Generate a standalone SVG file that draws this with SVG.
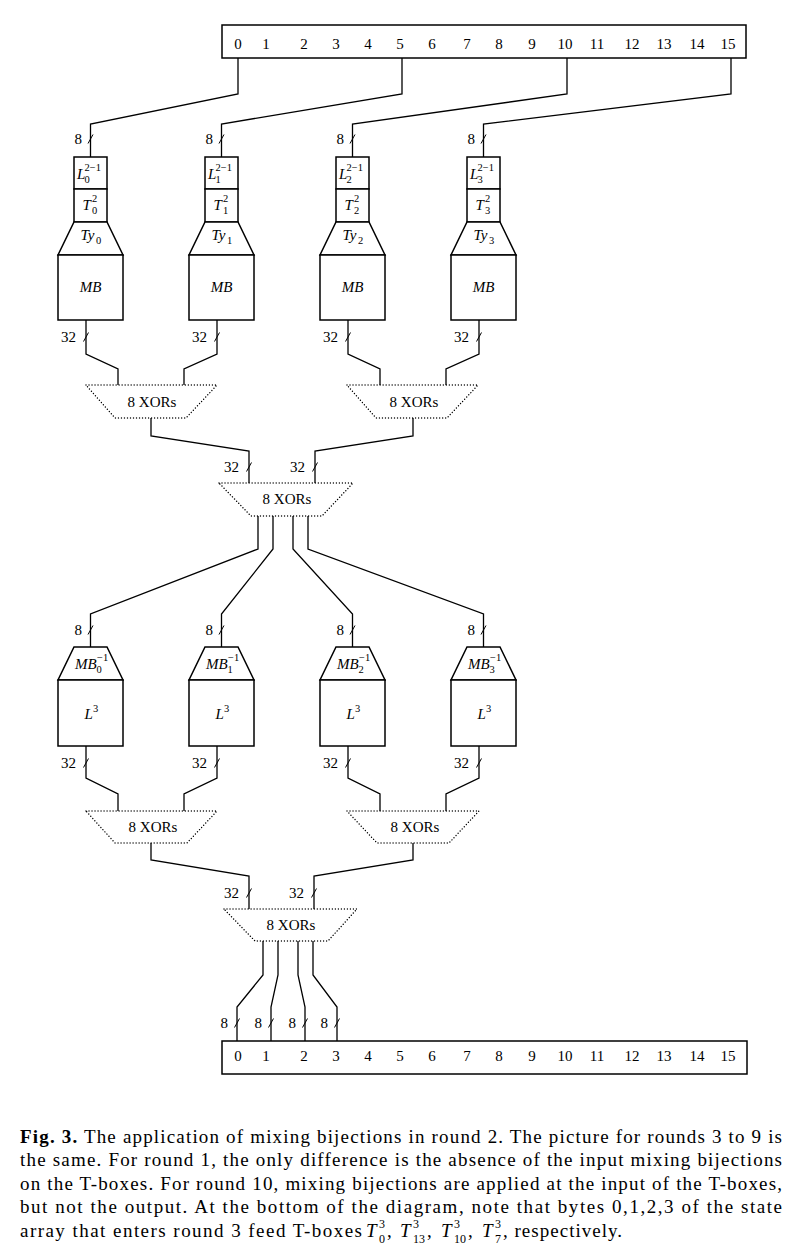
<svg xmlns="http://www.w3.org/2000/svg" width="802" height="1256" viewBox="0 0 802 1256">
<style>
.box{fill:#fff;stroke:#000;stroke-width:1.5}
.xor{fill:none;stroke:#000;stroke-width:1.4;stroke-dasharray:0.01 3;stroke-linecap:round}
.wire{fill:none;stroke:#000;stroke-width:1.3}
.tick{fill:none;stroke:#000;stroke-width:1}
text{font-family:"Liberation Serif","DejaVu Serif",serif;font-size:15px;fill:#000}
.m{font-style:italic}
.s{font-size:10.5px}
.c{text-anchor:middle}
.e{text-anchor:end}
.cap{font-size:19px}
.cs{font-size:12px}
</style>

<g id="state-top">
<rect class="box" x="222" y="25" width="524" height="33"/>
<g class="c">
<text x="238" y="49">0</text><text x="266" y="49">1</text><text x="304" y="49">2</text><text x="336" y="49">3</text>
<text x="368" y="49">4</text><text x="400" y="49">5</text><text x="432" y="49">6</text><text x="467" y="49">7</text>
<text x="499" y="49">8</text><text x="532" y="49">9</text><text x="565" y="49">10</text><text x="597" y="49">11</text>
<text x="632" y="49">12</text><text x="664" y="49">13</text><text x="697" y="49">14</text><text x="728" y="49">15</text>
</g>
</g>

<g id="connectors">
<path class="wire" d="M238 58 V94 L90.5 124 V157"/>
<path class="wire" d="M402 58 V94 L221.5 124 V157"/>
<path class="wire" d="M567 58 V94 L352.5 124 V157"/>
<path class="wire" d="M731 58 V94 L483.5 124 V157"/>
<path class="wire" d="M86 320 V354 L118 369 V385"/>
<path class="wire" d="M217 320 V354 L184 369 V385"/>
<path class="wire" d="M348 320 V354 L380 369 V385"/>
<path class="wire" d="M479 320 V354 L446 369 V385"/>
<path class="wire" d="M151 418 V436 L249 451 V483"/>
<path class="wire" d="M413 418 V436 L315 451 V483"/>
<path class="wire" d="M258 516 V549 L90.5 614 V647"/>
<path class="wire" d="M273 516 V549 L221.5 614 V647"/>
<path class="wire" d="M293 516 V549 L352.5 614 V647"/>
<path class="wire" d="M308 516 V549 L483.5 614 V647"/>
<path class="wire" d="M86 746 V778 L118 794 V811"/>
<path class="wire" d="M217 746 V778 L184 794 V811"/>
<path class="wire" d="M348 746 V778 L380 794 V811"/>
<path class="wire" d="M479 746 V778 L446 794 V811"/>
<path class="wire" d="M151 843 V860 L249 876 V909"/>
<path class="wire" d="M413 843 V860 L314 876 V909"/>
<path class="wire" d="M263 941 V975 L237 1007 V1041"/>
<path class="wire" d="M278 941 V975 L271 1007 V1041"/>
<path class="wire" d="M298 941 V975 L305 1007 V1041"/>
<path class="wire" d="M313 941 V975 L337 1007 V1041"/>
<g id="bus-ticks">
<path class="tick" d="M88 143.5 L93 134.5 M219 143.5 L224 134.5 M350 143.5 L355 134.5 M481 143.5 L486 134.5"/>
<path class="tick" d="M83.5 341.5 L88.5 332.5 M214.5 341.5 L219.5 332.5 M345.5 341.5 L350.5 332.5 M476.5 341.5 L481.5 332.5"/>
<path class="tick" d="M246.5 471.5 L251.5 462.5 M312.5 471.5 L317.5 462.5"/>
<path class="tick" d="M88 634.5 L93 625.5 M219 634.5 L224 625.5 M350 634.5 L355 625.5 M481 634.5 L486 625.5"/>
<path class="tick" d="M83.5 767.5 L88.5 758.5 M214.5 767.5 L219.5 758.5 M345.5 767.5 L350.5 758.5 M476.5 767.5 L481.5 758.5"/>
<path class="tick" d="M246.5 897.5 L251.5 888.5 M311.5 897.5 L316.5 888.5"/>
<path class="tick" d="M234.5 1027.5 L239.5 1018.5 M268.5 1027.5 L273.5 1018.5 M302.5 1027.5 L307.5 1018.5 M334.5 1027.5 L339.5 1018.5"/>
</g>
<g id="bus-labels" class="e">
<text x="82" y="144">8</text><text x="213" y="144">8</text><text x="344" y="144">8</text><text x="475" y="144">8</text>
<text x="76" y="342">32</text><text x="207" y="342">32</text><text x="338" y="342">32</text><text x="469" y="342">32</text>
<text x="239" y="472">32</text><text x="305" y="472">32</text>
<text x="82" y="635">8</text><text x="213" y="635">8</text><text x="344" y="635">8</text><text x="475" y="635">8</text>
<text x="76" y="768">32</text><text x="207" y="768">32</text><text x="338" y="768">32</text><text x="469" y="768">32</text>
<text x="239" y="898">32</text><text x="304" y="898">32</text>
<text x="228" y="1028">8</text><text x="262" y="1028">8</text><text x="296" y="1028">8</text><text x="328" y="1028">8</text>
</g>
</g>

<g id="tbox0">
<rect class="box" x="74" y="157" width="33" height="32"/>
<rect class="box" x="74" y="189" width="33" height="33"/>
<polygon class="box" points="74,222 107,222 123,255 58,255"/>
<rect class="box" x="58" y="255" width="65" height="65"/>
<text x="77" y="179" class="m">L</text><text x="84.5" y="171" class="s">2−1</text><text x="84.5" y="183" class="s">0</text>
<text x="82.5" y="210" class="m">T</text><text x="92" y="202" class="s">2</text><text x="92" y="214" class="s">0</text>
<text x="80.5" y="240" class="m">Ty</text><text x="96" y="244" class="s">0</text>
<text x="90.5" y="292" class="m c">MB</text>
</g>
<g id="tbox1">
<rect class="box" x="205" y="157" width="33" height="32"/>
<rect class="box" x="205" y="189" width="33" height="33"/>
<polygon class="box" points="205,222 238,222 254,255 189,255"/>
<rect class="box" x="189" y="255" width="65" height="65"/>
<text x="208" y="179" class="m">L</text><text x="215.5" y="171" class="s">2−1</text><text x="215.5" y="183" class="s">1</text>
<text x="213.5" y="210" class="m">T</text><text x="223" y="202" class="s">2</text><text x="223" y="214" class="s">1</text>
<text x="211.5" y="240" class="m">Ty</text><text x="227" y="244" class="s">1</text>
<text x="221.5" y="292" class="m c">MB</text>
</g>
<g id="tbox2">
<rect class="box" x="336" y="157" width="33" height="32"/>
<rect class="box" x="336" y="189" width="33" height="33"/>
<polygon class="box" points="336,222 369,222 385,255 320,255"/>
<rect class="box" x="320" y="255" width="65" height="65"/>
<text x="339" y="179" class="m">L</text><text x="346.5" y="171" class="s">2−1</text><text x="346.5" y="183" class="s">2</text>
<text x="344.5" y="210" class="m">T</text><text x="354" y="202" class="s">2</text><text x="354" y="214" class="s">2</text>
<text x="342.5" y="240" class="m">Ty</text><text x="358" y="244" class="s">2</text>
<text x="352.5" y="292" class="m c">MB</text>
</g>
<g id="tbox3">
<rect class="box" x="467" y="157" width="33" height="32"/>
<rect class="box" x="467" y="189" width="33" height="33"/>
<polygon class="box" points="467,222 500,222 516,255 451,255"/>
<rect class="box" x="451" y="255" width="65" height="65"/>
<text x="470" y="179" class="m">L</text><text x="477.5" y="171" class="s">2−1</text><text x="477.5" y="183" class="s">3</text>
<text x="475.5" y="210" class="m">T</text><text x="485" y="202" class="s">2</text><text x="485" y="214" class="s">3</text>
<text x="473.5" y="240" class="m">Ty</text><text x="489" y="244" class="s">3</text>
<text x="483.5" y="292" class="m c">MB</text>
</g>

<g id="xor-a"><polygon class="xor" points="86,385 217,385 186,418 115,418"/><text x="152" y="407" class="c">8 XORs</text></g>
<g id="xor-b"><polygon class="xor" points="347,385 478,385 447,418 376,418"/><text x="414" y="407" class="c">8 XORs</text></g>
<g id="xor-c"><polygon class="xor" points="219,483 353,483 322,516 251,516"/><text x="287" y="504" class="c">8 XORs</text></g>

<g id="mbox0">
<polygon class="box" points="74,647 107,647 123,680 58,680"/>
<rect class="box" x="58" y="680" width="65" height="66"/>
<text x="75" y="669" class="m">MB</text><text x="97" y="661" class="s">−1</text><text x="96.5" y="673" class="s">0</text>
<text x="84.5" y="719" class="m">L</text><text x="93" y="712" class="s">3</text>
</g>
<g id="mbox1">
<polygon class="box" points="205,647 238,647 254,680 189,680"/>
<rect class="box" x="189" y="680" width="65" height="66"/>
<text x="206" y="669" class="m">MB</text><text x="228" y="661" class="s">−1</text><text x="227.5" y="673" class="s">1</text>
<text x="215.5" y="719" class="m">L</text><text x="224" y="712" class="s">3</text>
</g>
<g id="mbox2">
<polygon class="box" points="336,647 369,647 385,680 320,680"/>
<rect class="box" x="320" y="680" width="65" height="66"/>
<text x="337" y="669" class="m">MB</text><text x="359" y="661" class="s">−1</text><text x="358.5" y="673" class="s">2</text>
<text x="346.5" y="719" class="m">L</text><text x="355" y="712" class="s">3</text>
</g>
<g id="mbox3">
<polygon class="box" points="467,647 500,647 516,680 451,680"/>
<rect class="box" x="451" y="680" width="65" height="66"/>
<text x="468" y="669" class="m">MB</text><text x="490" y="661" class="s">−1</text><text x="489.5" y="673" class="s">3</text>
<text x="477.5" y="719" class="m">L</text><text x="486" y="712" class="s">3</text>
</g>

<g id="xor-d"><polygon class="xor" points="86,811 217,811 187,843 115,843"/><text x="153" y="832" class="c">8 XORs</text></g>
<g id="xor-e"><polygon class="xor" points="347,811 479,811 449,843 377,843"/><text x="415" y="832" class="c">8 XORs</text></g>
<g id="xor-f"><polygon class="xor" points="224,909 357,909 328,941 255,941"/><text x="291" y="930" class="c">8 XORs</text></g>

<g id="state-bottom">
<rect class="box" x="222" y="1041" width="525" height="33"/>
<g class="c">
<text x="238" y="1061">0</text><text x="266" y="1061">1</text><text x="304" y="1061">2</text><text x="336" y="1061">3</text>
<text x="368" y="1061">4</text><text x="400" y="1061">5</text><text x="432" y="1061">6</text><text x="467" y="1061">7</text>
<text x="499" y="1061">8</text><text x="532" y="1061">9</text><text x="565" y="1061">10</text><text x="597" y="1061">11</text>
<text x="632" y="1061">12</text><text x="664" y="1061">13</text><text x="697" y="1061">14</text><text x="728" y="1061">15</text>
</g>
</g>

<g id="caption">
<text class="cap" x="20" y="1143" textLength="762" lengthAdjust="spacing"><tspan font-weight="bold">Fig. 3.</tspan> The application of mixing bijections in round 2. The picture for rounds 3 to 9 is</text>
<text class="cap" x="20" y="1166" textLength="762" lengthAdjust="spacing">the same. For round 1, the only difference is the absence of the input mixing bijections</text>
<text class="cap" x="20" y="1190" textLength="762" lengthAdjust="spacing">on the T-boxes. For round 10, mixing bijections are applied at the input of the T-boxes,</text>
<text class="cap" x="20" y="1213" textLength="762" lengthAdjust="spacing">but not the output. At the bottom of the diagram, note that bytes 0,1,2,3 of the state</text>
<text class="cap" x="20" y="1237" textLength="342" lengthAdjust="spacing">array that enters round 3 feed T-boxes</text>
<text class="cap m" x="366" y="1237">T</text><text class="cs" x="379" y="1228">3</text><text class="cs" x="379" y="1243">0</text><text class="cap" x="387" y="1237">,</text>
<text class="cap m" x="400" y="1237">T</text><text class="cs" x="413" y="1228">3</text><text class="cs" x="413" y="1243">13</text><text class="cap" x="427" y="1237">,</text>
<text class="cap m" x="441" y="1237">T</text><text class="cs" x="454" y="1228">3</text><text class="cs" x="454" y="1243">10</text><text class="cap" x="468" y="1237">,</text>
<text class="cap m" x="482" y="1237">T</text><text class="cs" x="495" y="1228">3</text><text class="cs" x="495" y="1243">7</text>
<text class="cap" x="503" y="1237" textLength="119" lengthAdjust="spacing">, respectively.</text>
</g>
</svg>
